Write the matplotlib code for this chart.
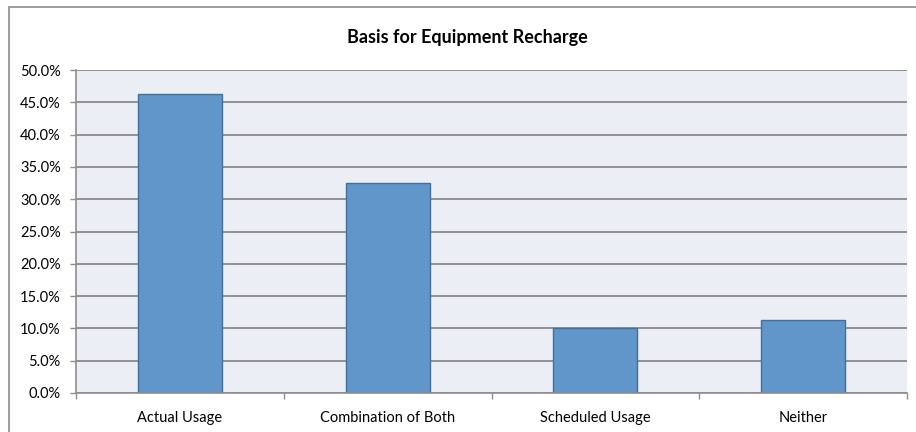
import matplotlib
matplotlib.use("Agg")
import matplotlib.pyplot as plt
from matplotlib.patches import Rectangle
from matplotlib.ticker import FixedLocator, FuncFormatter
import numpy as np

categories = ["Actual Usage", "Combination of Both", "Scheduled Usage", "Neither"]
values = [46.3, 32.5, 10.0, 11.3]
title = "Basis for Equipment Recharge"

plt.rcParams['font.family'] = ['Lato', 'DejaVu Sans']

W, H = 916, 432
fig = plt.figure(figsize=(W / 100, H / 100), dpi=100)
fig.patch.set_facecolor('white')

# outer chart border
fig.patches.append(Rectangle((8.5 / W, -0.1), 1.2, (H - 7.5) / H + 0.1,
                             transform=fig.transFigure, fill=False,
                             edgecolor='#8C8C8C', linewidth=1.2, clip_on=False))

ax = fig.add_axes([76 / W, (H - 393) / H, (907 - 76) / W, (393 - 70) / H])
ax.set_facecolor('#EBEEF4')

x = np.arange(len(categories))
ax.bar(x, values, width=0.405, color='#6096C9', edgecolor='#41709F',
       linewidth=1.0, zorder=3)

ax.set_xlim(-0.5, len(categories) - 0.5)
ax.set_ylim(0, 50)
ax.yaxis.set_major_locator(FixedLocator(np.arange(0, 50.1, 5)))
ax.yaxis.set_major_formatter(FuncFormatter(lambda v, p: f"{v:.1f}%"))
ax.grid(axis='y', color='#8A8A8A', linewidth=1.3, zorder=1)
ax.set_axisbelow(True)

ax.set_xticks(x)
ax.set_xticklabels(categories)
ax.set_xticks(np.arange(-0.5, len(categories), 1.0), minor=True)
ax.tick_params(axis='x', which='major', length=0, pad=13, labelsize=10.5, colors='black')
ax.tick_params(axis='x', which='minor', length=4, width=1, color='#8E8E8E', direction='out')
ax.tick_params(axis='y', length=4, width=1, color='#8E8E8E', direction='out', pad=7,
               labelsize=10.5, labelcolor='black')

for s in ['top', 'right']:
    ax.spines[s].set_visible(False)
for s in ['left', 'bottom']:
    ax.spines[s].set_color('#8E8E8E')
    ax.spines[s].set_linewidth(1.2)
    ax.spines[s].set_zorder(4)

fig.text(467 / W, (H - 38) / H, title, ha='center', va='center',
         fontsize=13, fontweight='bold', color='black')

fig.savefig("out.png", dpi=100)
